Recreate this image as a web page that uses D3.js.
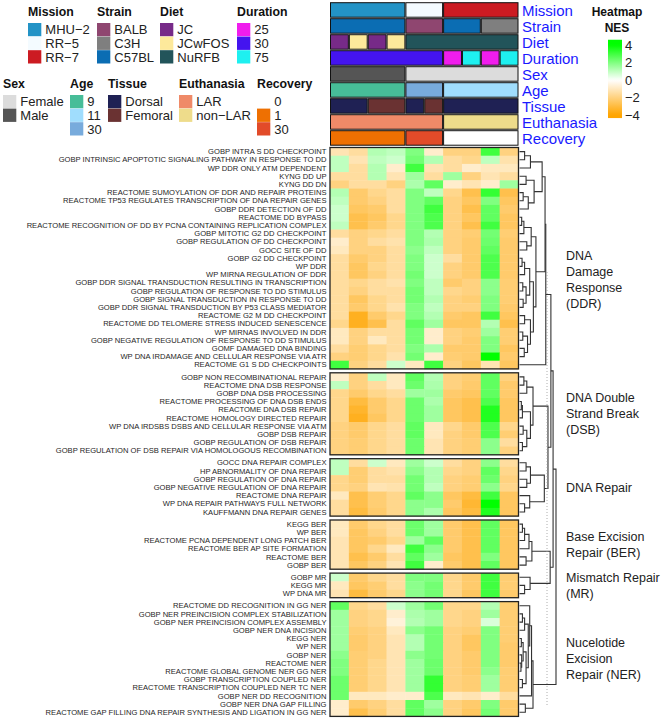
<!DOCTYPE html>
<html lang="en">
<head>
<meta charset="UTF-8">
<title>DNA damage pathways heatmap</title>
<script src="https://d3js.org/d3.v7.min.js"></script>
<style>
  body { margin: 0; background: #fff; }
  text { font-family: "Liberation Sans", Arial, sans-serif; }
</style>
</head>
<body>
<svg id="main" width="664" height="720"></svg>
<script>
// ---- column annotations (10 samples) ----
const mission    = ["MHU-2","MHU-2","MHU-2","MHU-2","RR-5","RR-5","RR-7","RR-7","RR-7","RR-7"];
const strain     = ["C57BL","C57BL","C57BL","C57BL","BALB","BALB","C57BL","C57BL","C3H","C3H"];
const diet       = ["JC","JCwFOS","JC","JCwFOS","NuRFB","NuRFB","NuRFB","NuRFB","NuRFB","NuRFB"];
const duration   = ["30","30","30","30","30","30","25","75","25","75"];
const sex        = ["Male","Male","Male","Male","Female","Female","Female","Female","Female","Female"];
const age        = ["9","9","9","9","30","30","11","11","11","11"];
const tissue     = ["Dorsal","Dorsal","Femoral","Femoral","Dorsal","Femoral","Dorsal","Dorsal","Dorsal","Dorsal"];
const euthanasia = ["LAR","LAR","LAR","LAR","LAR","LAR","non-LAR","non-LAR","non-LAR","non-LAR"];
const recovery   = ["1","1","1","1","30","30","0","0","0","0"];

const annoNames = ["Mission","Strain","Diet","Duration","Sex","Age","Tissue","Euthanasia","Recovery"];
const annoVals  = [mission, strain, diet, duration, sex, age, tissue, euthanasia, recovery];

const annoColors = {
  Mission:    {"MHU-2":"#2393c6","RR-5":"#f4fbff","RR-7":"#cc1b22"},
  Strain:     {"BALB":"#8f4670","C3H":"#7f7f7f","C57BL":"#0b6db3"},
  Diet:       {"JC":"#772a88","JCwFOS":"#fde99b","NuRFB":"#22545a"},
  Duration:   {"25":"#f01ded","30":"#4414ef","75":"#1ef0f0"},
  Sex:        {"Female":"#dcdcdc","Male":"#555555"},
  Age:        {"9":"#47bd98","11":"#a0ddfd","30":"#78abdc"},
  Tissue:     {"Dorsal":"#1f2154","Femoral":"#6a3232"},
  Euthanasia: {"LAR":"#ef8a68","non-LAR":"#eedc8b"},
  Recovery:   {"0":"#ffffff","1":"#ee7002","30":"#e24b29"}
};
const legendRow1 = ["Mission","Strain","Diet","Duration"];
const legendRow2 = ["Sex","Age","Tissue","Euthanasia","Recovery"];

// ---- row slices ----
const blockKeys = ["DDR","DSB","REP","BER","MR","NER"];
const blockLabels = {
  DDR: ["DNA","Damage","Response","(DDR)"],
  DSB: ["DNA Double","Strand Break","(DSB)"],
  REP: ["DNA Repair"],
  BER: ["Base Excision","Repair (BER)"],
  MR:  ["Mismatch Repair","(MR)"],
  NER: ["Nucelotide","Excision","Repair (NER)"]
};

const ddrRows = ["GOBP INTRA S DD CHECKPOINT","GOBP INTRINSIC APOPTOTIC SIGNALING PATHWAY IN RESPONSE TO DD",
  "WP DDR ONLY ATM DEPENDENT","KYNG DD UP","KYNG DD DN","REACTOME SUMOYLATION OF DDR AND REPAIR PROTEINS",
  "REACTOME TP53 REGULATES TRANSCRIPTION OF DNA REPAIR GENES","GOBP DDR DETECTION OF DD","REACTOME DD BYPASS",
  "REACTOME RECOGNITION OF DD BY PCNA CONTAINING REPLICATION COMPLEX","GOBP MITOTIC G2 DD CHECKPOINT",
  "GOBP REGULATION OF DD CHECKPOINT","GOCC SITE OF DD","GOBP G2 DD CHECKPOINT","WP DDR","WP MIRNA REGULATION OF DDR",
  "GOBP DDR SIGNAL TRANSDUCTION RESULTING IN TRANSCRIPTION","GOBP REGULATION OF RESPONSE TO DD STIMULUS",
  "GOBP SIGNAL TRANSDUCTION IN RESPONSE TO DD","GOBP DDR SIGNAL TRANSDUCTION BY P53 CLASS MEDIATOR",
  "REACTOME G2 M DD CHECKPOINT","REACTOME DD TELOMERE STRESS INDUCED SENESCENCE","WP MIRNAS INVOLVED IN DDR",
  "GOBP NEGATIVE REGULATION OF RESPONSE TO DD STIMULUS","GOMF DAMAGED DNA BINDING",
  "WP DNA IRDAMAGE AND CELLULAR RESPONSE VIA ATR","REACTOME G1 S DD CHECKPOINTS"];
const dsbRows = ["GOBP NON RECOMBINATIONAL REPAIR","REACTOME DNA DSB RESPONSE","GOBP DNA DSB PROCESSING",
  "REACTOME PROCESSING OF DNA DSB ENDS","REACTOME DNA DSB REPAIR","REACTOME HOMOLOGY DIRECTED REPAIR",
  "WP DNA IRDSBS DSBS AND CELLULAR RESPONSE VIA ATM","GOBP DSB REPAIR","GOBP REGULATION OF DSB REPAIR",
  "GOBP REGULATION OF DSB REPAIR VIA HOMOLOGOUS RECOMBINATION"];
const repRows = ["GOCC DNA REPAIR COMPLEX","HP ABNORMALITY OF DNA REPAIR","GOBP REGULATION OF DNA REPAIR",
  "GOBP NEGATIVE REGULATION OF DNA REPAIR","REACTOME DNA REPAIR","WP DNA REPAIR PATHWAYS FULL NETWORK",
  "KAUFFMANN DNA REPAIR GENES"];
const berRows = ["KEGG BER","WP BER","REACTOME PCNA DEPENDENT LONG PATCH BER","REACTOME BER AP SITE FORMATION",
  "REACTOME BER","GOBP BER"];
const mrRows = ["GOBP MR","KEGG MR","WP DNA MR"];
const nerRows = ["REACTOME DD RECOGNITION IN GG NER","GOBP NER PREINCISION COMPLEX STABILIZATION",
  "GOBP NER PREINCISION COMPLEX ASSEMBLY","GOBP NER DNA INCISION","KEGG NER","WP NER","GOBP NER","REACTOME NER",
  "REACTOME GLOBAL GENOME NER GG NER","GOBP TRANSCRIPTION COUPLED NER","REACTOME TRANSCRIPTION COUPLED NER TC NER",
  "GOBP NER DD RECOGNITION","GOBP NER DNA GAP FILLING","REACTOME GAP FILLING DNA REPAIR SYNTHESIS AND LIGATION IN GG NER"];

// NES values, one row per gene set, 10 samples
const ddrNes = [
  [-1.2,-1.5, 1.2, 1.0, 2.0,-0.8,-2.0,-2.0, 3.0,-2.0],
  [ 1.0,-1.2, 1.0, 0.8, 2.2, 1.2,-1.5,-1.8, 1.0,-1.3],
  [ 1.0,-1.5, 1.2,-0.8, 3.0,-1.2,-1.5,-0.8,-1.0,-1.0],
  [-1.5,-1.5, 1.2,-1.2, 1.5,-1.5, 1.5,-2.0,-1.2,-1.5],
  [-2.0,-1.5,-1.5,-2.0, 1.3, 2.5,-0.8,-1.2,-0.8, 1.5],
  [ 1.2,-2.3,-1.8,-1.5, 2.0, 1.0,-1.8,-2.8, 3.2,-2.8],
  [ 1.0,-2.3,-2.0,-1.5, 2.0, 2.5,-2.0,-2.5, 2.0,-2.5],
  [ 0.8,-2.5,-2.3,-1.5, 2.0, 3.0,-2.0,-2.8, 2.5,-2.3],
  [ 0.8,-2.8,-2.5,-1.8, 2.0, 2.8,-2.0,-2.5, 2.5,-2.5],
  [ 1.0,-2.8,-2.3,-1.8, 2.0, 2.8,-2.0,-2.8, 3.0,-2.5],
  [-1.5,-2.0,-1.8,-1.5, 2.0, 1.2,-2.0,-2.2, 2.2,-2.2],
  [-0.8,-2.0,-1.5,-1.3, 2.0, 1.3,-2.0,-2.3, 2.3,-2.3],
  [-1.0,-2.0,-2.0,-1.5, 1.8, 1.0,-2.0,-2.3, 2.5,-2.3],
  [-1.5,-2.3,-2.0,-1.5, 2.0, 0.8,-1.5,-2.3, 2.8,-2.3],
  [-1.5,-2.5,-1.8,-1.5, 2.0, 0.8,-2.0,-2.3, 2.8,-2.3],
  [-1.5,-2.5,-2.0,-1.5, 2.2, 0.8,-2.0,-2.3, 2.8,-2.3],
  [-1.5,-1.8,-1.5,-1.3, 2.0, 1.0,-2.3,-2.0, 1.8,-2.2],
  [-1.5,-2.0,-1.5,-1.5, 2.2, 1.0,-1.8,-2.0, 1.8,-2.2],
  [-1.5,-2.5,-1.8,-1.5, 2.2, 1.2,-2.0,-2.2, 2.0,-2.2],
  [-1.5,-2.3,-1.8,-1.3, 2.0, 1.0,-2.0,-2.0, 2.0,-2.3],
  [-1.5,-3.5,-2.3,-1.8, 2.0, 1.2,-2.3,-2.5, 3.0,-2.5],
  [-1.8,-3.5,-2.8,-1.5, 2.5, 1.5,-2.5,-2.5, 1.2,-2.8],
  [-1.0,-2.0,-1.5,-1.5, 2.2,-0.8,-2.0,-2.2, 1.5,-2.2],
  [-1.0,-2.0,-1.0,-1.5, 2.2,-0.8,-2.0,-2.3, 2.0,-2.2],
  [-1.5,-2.2,-1.8,-1.5, 2.0, 1.3,-2.3,-2.3, 2.0,-2.5],
  [-2.0,-2.2,-1.8,-1.3, 2.2,-0.8,-2.2,-2.3, 4.2,-2.3],
  [ 3.0,-2.0,-1.5, 0.8,-1.0, 3.0,-2.0,-2.5,-1.2,-2.5]
];
const dsbNes = [
  [-0.8,-2.0, 1.0,-1.0, 2.5, 1.2,-2.0,-2.2, 2.5,-2.0],
  [ 1.0,-2.0,-1.5,-1.0, 2.3, 1.3,-2.0,-2.3, 2.5,-2.3],
  [-1.8,-2.3,-1.8,-1.5, 1.5, 1.5,-2.3,-2.5, 2.5,-2.3],
  [-1.8,-3.0,-2.3,-1.8, 2.3, 1.3,-2.5,-2.8, 2.8,-2.5],
  [-1.8,-3.3,-2.3,-1.8, 2.3, 1.5,-2.5,-2.8, 3.5,-2.5],
  [-1.8,-3.5,-2.5,-1.8, 2.3, 1.5,-2.5,-2.8, 3.5,-2.5],
  [-2.0,-2.3,-1.8,-1.5, 2.5,-1.0,-1.8,-2.3, 2.8,-1.8],
  [-2.0,-2.3,-1.8,-1.5, 2.5,-1.0,-2.0,-2.3, 2.8,-2.2],
  [-2.0,-2.2,-1.8,-1.5, 2.3,-1.2,-2.0,-2.2, 1.8,-1.5],
  [-2.0,-2.2,-1.8,-1.5, 2.3,-1.2,-2.0,-2.2, 1.8,-2.0]
];
const repNes = [
  [ 1.0,-1.5, 0.8,-1.0, 1.5, 0.8,-1.5,-2.0, 1.8,-1.5],
  [ 1.0,-2.2,-1.5,-1.3, 1.8, 1.2,-1.8,-2.0, 2.5,-1.8],
  [-1.8,-2.2,-1.5,-1.5, 2.2, 1.2,-2.0,-2.2, 2.3,-2.0],
  [-1.8,-2.0,-1.2,-1.3, 2.2, 1.0,-2.0,-2.2, 1.8,-1.8],
  [-1.0,-2.8,-2.2,-1.8, 2.5, 1.8,-2.5,-3.0, 3.0,-2.5],
  [-1.5,-2.8,-2.2,-1.8, 1.8, 1.8,-2.3,-3.2, 4.3,-2.5],
  [-1.5,-3.0,-2.3,-1.8, 1.8, 1.3,-2.5,-3.0, 3.5,-2.5]
];
const berNes = [
  [-1.0,-2.3,-1.8,-1.5, 2.3, 1.5,-2.3,-2.8, 2.5,-2.5],
  [-1.0,-2.5,-2.0,-1.5, 2.3, 1.5,-2.3,-2.8, 2.5,-2.5],
  [-1.2,-2.5,-2.3,-1.8, 1.5, 2.5,-2.3,-2.8, 2.5,-2.5],
  [-1.2,-2.5,-1.8,-1.0, 3.0, 1.8,-2.3,-2.8, 2.5,-2.5],
  [-1.2,-2.8,-2.3,-1.5, 2.5, 1.5,-2.5,-2.8, 2.0,-2.5],
  [-1.2,-2.5,-2.0,-1.2, 3.0,-0.8,-2.3,-2.8, 2.5,-2.5]
];
const mrNes = [
  [ 0.8,-2.3,-1.8,-1.5, 2.0, 2.0,-1.8,-2.3, 3.0,-2.2],
  [-1.0,-2.5,-2.2,-1.5, 1.8, 2.2,-1.8,-2.3, 3.0,-2.2],
  [-1.2,-3.0,-2.3,-1.8, 1.8, 2.2,-1.8,-2.5, 3.0,-2.3]
];
const nerNes = [
  [ 2.5,-1.8,-1.5, 0.8, 1.5, 2.2,-1.8,-1.8, 1.2,-2.2],
  [ 1.5,-2.0,-1.8,-0.8, 1.3, 1.5,-1.8,-2.0, 1.5,-2.2],
  [ 1.5,-2.0,-1.8,-0.6, 1.2, 1.5,-1.8,-2.0, 0.6,-2.2],
  [ 1.5,-2.2,-2.0,-1.0, 1.8, 2.2,-2.0,-2.2, 2.0,-2.2],
  [ 1.5,-2.3,-2.0,-1.2, 1.2, 2.2,-2.0,-2.5, 2.0,-2.2],
  [ 1.5,-2.3,-2.0,-1.2, 1.2, 2.2,-2.0,-2.5, 2.0,-2.3],
  [ 1.8,-2.2,-2.0,-1.2, 1.8, 2.2,-2.0,-2.3, 2.0,-2.3],
  [ 2.0,-2.2,-1.8,-1.2, 1.5, 2.3,-2.0,-2.3, 2.0,-2.3],
  [ 2.0,-2.2,-1.8,-1.2, 1.5, 2.3,-2.0,-2.3, 1.8,-2.2],
  [ 2.3,-2.2,-1.8,-1.2, 1.5, 3.2,-2.0,-2.2, 1.5,-2.2],
  [ 2.3,-2.2,-1.8,-1.2, 1.5, 3.2,-2.0,-2.2, 1.5,-2.2],
  [ 2.3,-1.0,-1.0,-0.8,-0.8, 2.8,-1.0,-1.2,-0.8,-1.5],
  [-0.8,-2.3,-2.0,-1.5, 2.5, 1.5,-2.0,-2.3, 2.0,-2.3],
  [-0.8,-2.8,-2.2,-1.5, 2.5, 1.8,-2.0,-2.5, 2.2,-2.3]
];

// dendrograms: [height, left, right], leaves = row index inside the slice
const ddrTree = [72,
  [70,
    [62, [30, [14, 0, 1], 2], [40, [18, 3, 4], [24, [10, 5, 6], 7]]],
    [45, [32, [12, [6, 8, 9], 10], [20, 11, 12]],
         [38, [28, [14, [7, 13, 14], 15], [18, [9, 16, 17], [10, 18, 19]]],
              [30, [14, 20, 21], [22, [9, 22, 23], [13, 24, 25]]]]]],
  26];
const dsbTree = [37, [20, [12, 0, 1], 2],
                     [30, [8, [5, 3, 4], 5], [20, [10, 6, 7], [8, 8, 9]]]];
const repTree = [68, [30, [18, 0, 1], [20, 2, 3]], [28, 4, [14, 5, 6]]];
const berTree = [34, [26, [14, [8, 0, 1], 2], 3], [18, 4, 5]];
const mrTree  = [29, 0, [14, 1, 2]];
const nerTree = [37,
  [33, [28, 0, [24, [14, [8, 1, 2], 3],
                    [18, [10, [5, 4, 5], [6, 6, [4, 7, 8]]], [8, 9, 10]]]], 11],
  [16, 12, 13]];
// slice-level tree: leaves = slice index
const sliceTree = [100, [92, [86, 0, [78, 1, 2]], [84, 3, 4]], 5];

const blocks = {
  DDR: {rows: ddrRows, nes: ddrNes, tree: ddrTree},
  DSB: {rows: dsbRows, nes: dsbNes, tree: dsbTree},
  REP: {rows: repRows, nes: repNes, tree: repTree},
  BER: {rows: berRows, nes: berNes, tree: berTree},
  MR:  {rows: mrRows,  nes: mrNes,  tree: mrTree},
  NER: {rows: nerRows, nes: nerNes, tree: nerTree}
};

const legendTicks = [4, 2, 0, -2, -4];

// ---- layout ----
const svg = d3.select("svg#main");
const hmLeft = 330, hmRight = 518.5;
const rowH = 8.2, gap = 3.9, hmTop = 147.5;

const xCol = d3.scaleBand().domain(d3.range(10)).range([hmLeft, hmRight]);
const color = d3.scaleLinear().domain([-4, 0, 4])
  .range(["#ffa500", "#ffffff", "#00ff00"]).interpolate(d3.interpolateRgb).clamp(true);

// slice y ranges
let cursor = hmTop;
blockKeys.forEach(k => {
  const b = blocks[k];
  b.top = cursor;
  b.bottom = cursor + b.rows.length * rowH;
  b.y = d3.scaleBand().domain(d3.range(b.rows.length)).range([b.top, b.bottom]);
  cursor = b.bottom + gap;
});

// ---- heatmap cells, labels, borders ----
blockKeys.forEach(k => {
  const b = blocks[k];
  const g = svg.append("g");
  b.nes.forEach((row, i) => {
    g.selectAll(null).data(row).enter().append("rect")
      .attr("x", (d, j) => xCol(j))
      .attr("y", b.y(i))
      .attr("width", xCol.bandwidth() + 0.4)
      .attr("height", b.y.bandwidth() + 0.4)
      .attr("fill", d => color(d));
  });
  g.append("rect")
    .attr("x", hmLeft).attr("y", b.top)
    .attr("width", hmRight - hmLeft).attr("height", b.bottom - b.top)
    .attr("fill", "none").attr("stroke", "#222").attr("stroke-width", 1.3);
  svg.append("g").selectAll("text").data(b.rows).enter().append("text")
    .attr("x", hmLeft - 3.5)
    .attr("y", (d, i) => b.y(i) + b.y.bandwidth() / 2)
    .attr("dy", "0.35em")
    .attr("text-anchor", "end")
    .attr("font-size", 7.6)
    .attr("fill", "#1e1e1e")
    .text(d => d);
  // slice label on the right
  const lines = blockLabels[k];
  const mid = (b.top + b.bottom) / 2 + (k === "DDR" ? 21 : 0);
  svg.append("text")
    .attr("x", 566)
    .attr("y", mid - (lines.length - 1) * 8)
    .attr("font-size", 12.5)
    .attr("fill", "#222")
    .selectAll("tspan").data(lines).enter().append("tspan")
    .attr("x", 566)
    .attr("dy", (d, i) => i === 0 ? "0.35em" : 16)
    .text(d => d);
});

// ---- dendrogram ----
const dendX = d3.scaleLinear().domain([0, 100]).range([519.5, 556]);
const dend = svg.append("g").attr("fill", "none").attr("stroke", "#333").attr("stroke-width", 1.1);

function drawTree(node, yOf, hOf) {
  if (typeof node === "number") return {y: yOf(node), h: hOf(node)};
  const [h, l, r] = node;
  const a = drawTree(l, yOf, hOf), c = drawTree(r, yOf, hOf);
  const x = dendX(h);
  dend.append("path").attr("d",
    `M${dendX(a.h)},${a.y}H${x}V${c.y}H${dendX(c.h)}`);
  return {y: (a.y + c.y) / 2, h: h};
}
const sliceRoots = blockKeys.map(k => {
  const b = blocks[k];
  return drawTree(b.tree, i => b.y(i) + b.y.bandwidth() / 2, () => 0);
});
drawTree(sliceTree, i => sliceRoots[i].y, i => sliceRoots[i].h);

// dotted guide
svg.append("line")
  .attr("x1", 547).attr("x2", 547)
  .attr("y1", 272).attr("y2", 707)
  .attr("stroke", "#999").attr("stroke-width", 0.8).attr("stroke-dasharray", "1,2");

// ---- top annotation ----
const annoTop = 2.7, annoStep = 16, annoH = 14.5;
annoNames.forEach((name, r) => {
  const vals = annoVals[r];
  const runs = [];
  vals.forEach((v, j) => {
    if (runs.length && runs[runs.length - 1].v === v) runs[runs.length - 1].end = j;
    else runs.push({v: v, start: j, end: j});
  });
  const y = annoTop + r * annoStep;
  svg.append("g").selectAll("rect").data(runs).enter().append("rect")
    .attr("x", d => xCol(d.start) + 0.5)
    .attr("y", y)
    .attr("width", d => xCol(d.end) + xCol.bandwidth() - xCol(d.start) - 1)
    .attr("height", annoH)
    .attr("fill", d => annoColors[name][d.v])
    .attr("stroke", "#111").attr("stroke-width", 1);
  svg.append("text")
    .attr("x", 522).attr("y", y + annoH / 2 + 0.5)
    .attr("dy", "0.35em")
    .attr("font-size", 15)
    .attr("fill", "#1a1aff")
    .text(name);
});

// ---- heatmap colour legend ----
svg.append("text").attr("x", 617).attr("y", 16).attr("text-anchor", "middle")
  .attr("font-size", 12).attr("font-weight", "bold").attr("fill", "#111").text("Heatmap");
svg.append("text").attr("x", 617).attr("y", 32).attr("text-anchor", "middle")
  .attr("font-size", 12).attr("font-weight", "bold").attr("fill", "#111").text("NES");
const ly = d3.scaleLinear().domain([-4, 4]).range([115, 45]);
const defs = svg.append("defs");
const grad = defs.append("linearGradient").attr("id", "nesGrad")
  .attr("x1", 0).attr("x2", 0).attr("y1", 1).attr("y2", 0);
d3.range(-4.35, 4.6, 0.25).forEach(v => {
  grad.append("stop").attr("offset", (v + 4.35) / 8.95).attr("stop-color", color(v));
});
svg.append("rect").attr("x", 608).attr("y", ly(4.6)).attr("width", 14)
  .attr("height", ly(-4.35) - ly(4.6)).attr("fill", "url(#nesGrad)");
svg.append("g").selectAll("text").data(legendTicks).enter().append("text")
  .attr("x", 625).attr("y", d => ly(d)).attr("dy", "0.35em")
  .attr("font-size", 13).attr("fill", "#222")
  .text(d => d < 0 ? "\u2212" + Math.abs(d) : d);

// ---- discrete legends ----
const legendPos = {
  Mission: [28, 16, 23], Strain: [97, 16, 23], Diet: [160, 16, 23], Duration: [237, 16, 23],
  Sex: [3, 88, 95], Age: [70, 88, 95], Tissue: [108, 88, 95], Euthanasia: [179, 88, 95], Recovery: [257, 88, 95]
};
legendRow1.concat(legendRow2).forEach(name => {
  const [x, ty, by] = legendPos[name];
  const g = svg.append("g");
  g.append("text").attr("x", x).attr("y", ty).attr("font-size", 12.3)
    .attr("font-weight", "bold").attr("fill", "#111").text(name);
  const levels = Object.keys(annoColors[name]);
  if (name === "Duration" || name === "Age" || name === "Recovery") levels.sort((a, b) => a - b);
  levels.forEach((lv, i) => {
    g.append("rect").attr("x", x).attr("y", by + i * 13.6)
      .attr("width", 13.3).attr("height", 13.3).attr("fill", annoColors[name][lv]);
    g.append("text").attr("x", x + 17.3).attr("y", by + i * 13.6 + 6.9)
      .attr("dy", "0.35em").attr("font-size", 13).attr("fill", "#222")
      .text(lv.replace("-", "\u2212"));
  });
});
</script>
</body>
</html>
